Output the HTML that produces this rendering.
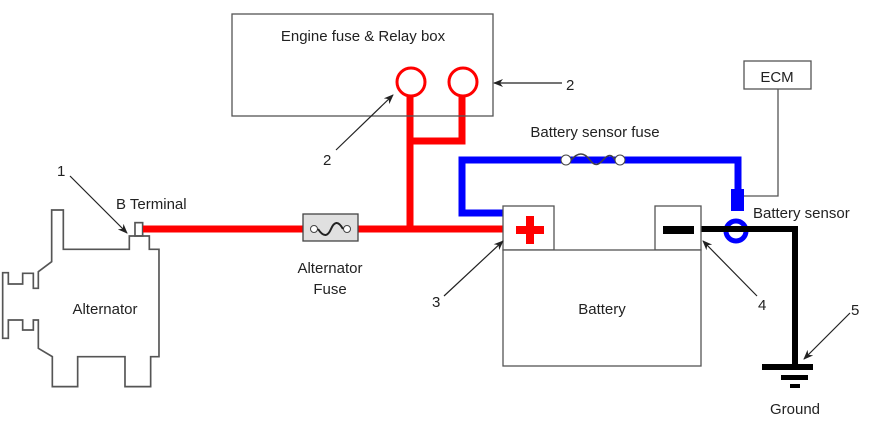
<!DOCTYPE html>
<html><head><style>html,body{margin:0;padding:0;background:#fff}svg{display:block}text{font-family:"Liberation Sans",sans-serif;font-size:15px;fill:#222}</style></head>
<body>
<svg width="896" height="444" viewBox="0 0 896 444" xmlns="http://www.w3.org/2000/svg">
<defs><marker id="a" markerWidth="10" markerHeight="8" refX="9" refY="4" orient="auto" markerUnits="userSpaceOnUse"><path d="M0,0 L10,4 L0,8 L3,4 Z" fill="#222"/></marker></defs>
<!-- alternator -->
<g transform="translate(0,160) scale(0.3333)" fill="none" stroke="#555" stroke-width="5">
<path d="M155,150 L190,150 L190,268 L388,268 L388,228 L448,228 L448,268 L477,268 L477,590 L452,590 L452,680 L375,680 L375,590 L233,590 L233,680 L157,680 L157,590 L115,565 L115,480 L100,480 L100,510 L68,510 L68,480 L25,480 L25,535 L8,535 L8,338 L25,338 L25,372 L68,372 L68,340 L100,340 L100,385 L115,385 L115,335 L155,305 Z"/>
<rect x="405" y="188" width="23" height="40"/>
</g>
<!-- red wires -->
<g stroke="#f00" stroke-width="7" fill="none">
<line x1="143" y1="229" x2="503" y2="229"/>
<polyline points="410,96 410,229"/>
<polyline points="410,141 462,141 462,96"/>
</g>
<circle cx="411" cy="82" r="14" fill="#fff" stroke="#f00" stroke-width="3"/>
<circle cx="463" cy="82" r="14" fill="#fff" stroke="#f00" stroke-width="3"/>
<rect x="232" y="14" width="261" height="102" fill="none" stroke="#555" stroke-width="1.3"/>
<text x="363" y="41" text-anchor="middle">Engine fuse &amp; Relay box</text>
<!-- alt fuse -->
<rect x="303" y="214" width="55" height="27" fill="#e0e0e0" stroke="#444" stroke-width="1.3"/>
<circle cx="314" cy="229" r="3.5" fill="#fff" stroke="#444"/>
<circle cx="347" cy="229" r="3.5" fill="#fff" stroke="#444"/>
<path d="M318,229 C324,238 328,236 331,229 C334,222 338,220 343,229" fill="none" stroke="#222" stroke-width="2"/>
<!-- blue wire -->
<polyline points="503,213 462,213 462,160 738,160 738,196" fill="none" stroke="#00f" stroke-width="7"/>
<rect x="731" y="189" width="13" height="22" fill="#00f"/>
<circle cx="736" cy="231" r="10" fill="none" stroke="#00f" stroke-width="5"/>
<circle cx="566" cy="160" r="5" fill="#fff" stroke="#444"/>
<circle cx="620" cy="160" r="5" fill="#fff" stroke="#444"/>
<path d="M571,160 C578,152 584,152 590,160 C594,166 598,166 603,160 C608,154 612,154 615,160" fill="none" stroke="#444" stroke-width="1.5"/>
<!-- black wire -->
<polyline points="701,229 795,229 795,366" fill="none" stroke="#000" stroke-width="6"/>
<rect x="762" y="364" width="51" height="6" fill="#000"/>
<rect x="781" y="375" width="27" height="5" fill="#000"/>
<rect x="790" y="384" width="10" height="4" fill="#000"/>
<!-- battery -->
<rect x="503" y="206" width="51" height="44" fill="#fff" stroke="#555" stroke-width="1.3"/>
<rect x="655" y="206" width="46" height="44" fill="#fff" stroke="#555" stroke-width="1.3"/>
<rect x="503" y="250" width="198" height="116" fill="#fff" stroke="#555" stroke-width="1.3"/>
<rect x="516" y="226" width="28" height="8" fill="#f00"/><rect x="526" y="216" width="8" height="28" fill="#f00"/>
<rect x="663" y="226" width="31" height="8" fill="#000"/>
<!-- ECM -->
<rect x="744" y="61" width="67" height="28" fill="#fff" stroke="#555" stroke-width="1.3"/>
<text x="777" y="82" text-anchor="middle">ECM</text>
<polyline points="778,89 778,196 744,196" fill="none" stroke="#555" stroke-width="1.3"/>
<!-- labels -->
<text x="116" y="209">B Terminal</text>
<text x="105" y="314" text-anchor="middle">Alternator</text>
<text x="330" y="273" text-anchor="middle">Alternator</text>
<text x="330" y="294" text-anchor="middle">Fuse</text>
<text x="595" y="137" text-anchor="middle">Battery sensor fuse</text>
<text x="753" y="218">Battery sensor</text>
<text x="602" y="314" text-anchor="middle">Battery</text>
<text x="795" y="414" text-anchor="middle">Ground</text>
<text x="57" y="176">1</text>
<text x="566" y="90">2</text>
<text x="323" y="165">2</text>
<text x="432" y="307">3</text>
<text x="758" y="310">4</text>
<text x="851" y="315">5</text>
<g stroke="#222" stroke-width="1.2" marker-end="url(#a)">
<line x1="70" y1="176" x2="127" y2="233"/>
<line x1="562" y1="83" x2="494" y2="83"/>
<line x1="336" y1="150" x2="393" y2="95"/>
<line x1="444" y1="296" x2="503" y2="241"/>
<line x1="757" y1="296" x2="703" y2="241"/>
<line x1="850" y1="313" x2="804" y2="359"/>
</g>
</svg>
</body></html>
